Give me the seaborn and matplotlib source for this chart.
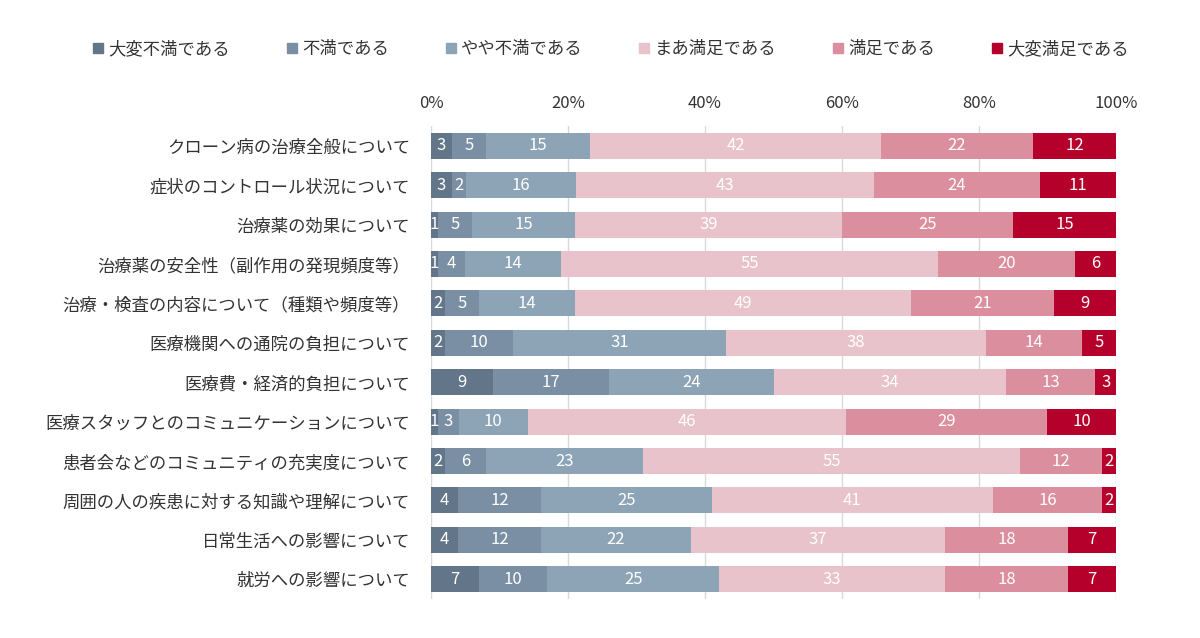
import seaborn as sns
import matplotlib.pyplot as plt
from matplotlib.lines import Line2D
import numpy as np
import pandas as pd

# 質問項目（上から順）
items = ['クローン病の治療全般について',
         '症状のコントロール状況について',
         '治療薬の効果について',
         '治療薬の安全性（副作用の発現頻度等）',
         '治療・検査の内容について（種類や頻度等）',
         '医療機関への通院の負担について',
         '医療費・経済的負担について',
         '医療スタッフとのコミュニケーションについて',
         '患者会などのコミュニティの充実度について',
         '周囲の人の疾患に対する知識や理解について',
         '日常生活への影響について',
         '就労への影響について']

levels = ['大変不満である', '不満である', 'やや不満である',
          'まあ満足である', '満足である', '大変満足である']

# 各回答の割合(%)
very_dissat = [3, 3, 1, 1, 2, 2, 9, 1, 2, 4, 4, 7]
dissat      = [5, 2, 5, 4, 5, 10, 17, 3, 6, 12, 12, 10]
some_dissat = [15, 16, 15, 14, 14, 31, 24, 10, 23, 25, 22, 25]
some_sat    = [42, 43, 39, 55, 49, 38, 34, 46, 55, 41, 37, 33]
sat         = [22, 24, 25, 20, 21, 14, 13, 29, 12, 16, 18, 18]
very_sat    = [12, 11, 15, 6, 9, 5, 3, 10, 2, 2, 7, 7]

colors = ['#637588', '#7b8fa4', '#8da4b7', '#e8c3cb', '#db8f9e', '#b4002b']

vals = np.array([very_dissat, dissat, some_dissat, some_sat, sat, very_sat], dtype=float).T
share = vals / vals.sum(axis=1, keepdims=True)   # 100%積み上げ
cum = share.cumsum(axis=1)

plt.rcParams['font.family'] = ['Noto Sans CJK JP', 'DejaVu Sans']
fig = plt.figure(figsize=(12, 6.38), dpi=100)
ax = fig.add_axes([0.3592, 0.0611, 0.5708, 0.7414])

# 累積値を大きい方から重ねて描く
for k in range(len(levels) - 1, -1, -1):
    df = pd.DataFrame({'item': items, 'v': cum[:, k]})
    sns.barplot(data=df, x='v', y='item', order=items, color=colors[k],
                orient='h', width=0.66, saturation=1, ax=ax, zorder=2)

# 数値ラベル
for i in range(len(items)):
    for k in range(len(levels)):
        left = cum[i, k] - share[i, k]
        ax.text(left + share[i, k] / 2, i, str(int(vals[i, k])),
                ha='center', va='center', color='white', fontsize=12, zorder=3)

ax.set_xlim(0, 1)
ax.set_ylim(len(items) - 0.5, -0.5)
ax.set_xticks(np.arange(0, 1.01, 0.2))
ax.set_xticklabels([f'{int(t * 100)}%' for t in np.arange(0, 1.01, 0.2)])
ax.xaxis.tick_top()
ax.tick_params(axis='x', length=0, pad=10, labelsize=12, colors='#333333')
ax.tick_params(axis='y', length=0, pad=15, labelsize=12.5, colors='#333333')
ax.set_xlabel('')
ax.set_ylabel('')
ax.grid(axis='x', color='#d9d9d9', linewidth=1)
ax.set_axisbelow(True)
for s in ax.spines.values():
    s.set_visible(False)

handles = [Line2D([], [], marker='s', linestyle='none', markersize=7,
                  color=c) for c in colors]
fig.legend(handles, levels, loc='center', bbox_to_anchor=(611 / 1200, 1 - 49 / 638),
           ncol=6, frameon=False, fontsize=12.5, handlelength=0.6,
           handletextpad=0.3, columnspacing=3.25, labelcolor='#333333')

fig.savefig('out.png', dpi=100)
